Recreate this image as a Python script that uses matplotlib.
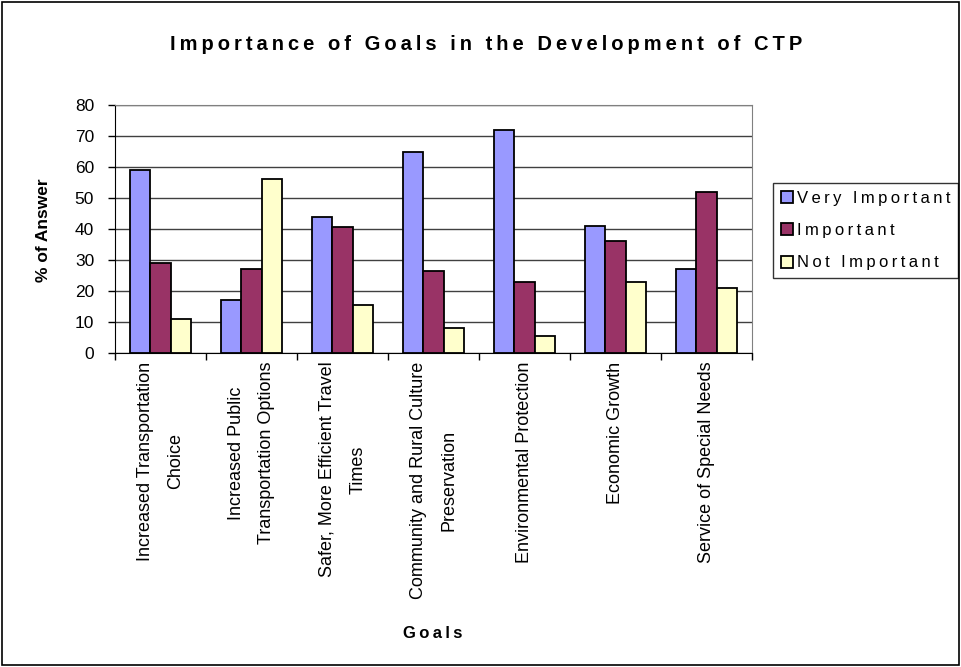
import numpy as np
import matplotlib
matplotlib.use('Agg')
import matplotlib.pyplot as plt
from matplotlib.patches import Rectangle

# survey results, % of answers per goal
goals = [
    'Increased Transportation\nChoice',
    'Increased Public\nTransportation Options',
    'Safer, More Efficient Travel\nTimes',
    'Community and Rural Culture\nPreservation',
    'Environmental Protection',
    'Economic Growth',
    'Service of Special Needs',
]
very_important = [59, 17, 44, 65, 72, 41, 27]
important = [29, 27, 40.5, 26.5, 23, 36, 52]
not_important = [11, 56, 15.5, 8, 5.5, 23, 21]

series = ['Very Important', 'Important', 'Not Important']
colors = ['#9999FF', '#993366', '#FFFFCC']

plt.rcParams['font.family'] = ['Liberation Sans', 'DejaVu Sans']


def spaced(s):
    # letter-spaced text, thin space between characters
    return '\u2009'.join(s)


fig = plt.figure(figsize=(9.61, 6.67), dpi=100)
W, H = 961, 667
ax = fig.add_axes([115 / W, 1 - 353 / H, (752 - 115) / W, (353 - 105) / H])

x = np.arange(len(goals))
w = 0.22
for i, (vals, name) in enumerate(zip([very_important, important, not_important], series)):
    ax.bar(x + (i - 1) * w, vals, w, color=colors[i], edgecolor='black',
           linewidth=1.3, label=name, zorder=3)

ax.set_xlim(-0.5, len(goals) - 0.5)
ax.set_ylim(0, 80)
ax.set_yticks(range(0, 81, 10))
ax.tick_params(axis='y', labelsize=12.5, length=5, direction='out', width=1, pad=10)
ax.yaxis.grid(True, color='#404040', linewidth=1, zorder=0)

ax.set_xticks(np.arange(len(goals) + 1) - 0.5)
ax.set_xticklabels([])
ax.tick_params(axis='x', length=5, direction='out', width=1)
for xi, label in zip(x, goals):
    ax.text(xi, -2.8, label, rotation=90, ha='center', va='top', fontsize=13,
            multialignment='center', linespacing=2.05)

for side in ['top', 'right']:
    ax.spines[side].set_color('#808080')
ax.spines['left'].set_color('black')
ax.spines['bottom'].set_color('black')

fig.text(43 / W, 1 - 230 / H, '% of Answer', rotation=90, ha='center', va='center',
         fontsize=12.5, fontweight='bold')
fig.text(433 / W, 1 - 633 / H, spaced('Goals'), ha='center', va='center',
         fontsize=12, fontweight='bold')
fig.text(486 / W, 1 - 45 / H, spaced('Importance of Goals in the Development of CTP'),
         ha='center', va='center', fontsize=14.5, fontweight='bold')

leg = ax.legend(loc='upper left', bbox_to_anchor=(773 / W, 1 - 183 / H),
                bbox_transform=fig.transFigure, frameon=True, fancybox=False,
                fontsize=12, handlelength=0.75, handleheight=0.75,
                handletextpad=0.25, borderpad=0.45, labelspacing=1.05,
                borderaxespad=0)
leg.get_frame().set_edgecolor('black')
leg.get_frame().set_linewidth(1)
for t in leg.get_texts():
    t.set_text(spaced(t.get_text()))

fig.patches.append(Rectangle((2 / W, 2 / H), 1 - 4 / W, 1 - 4 / H,
                             transform=fig.transFigure, fill=False,
                             edgecolor='black', linewidth=1.2))

fig.savefig('out.png', dpi=100)
